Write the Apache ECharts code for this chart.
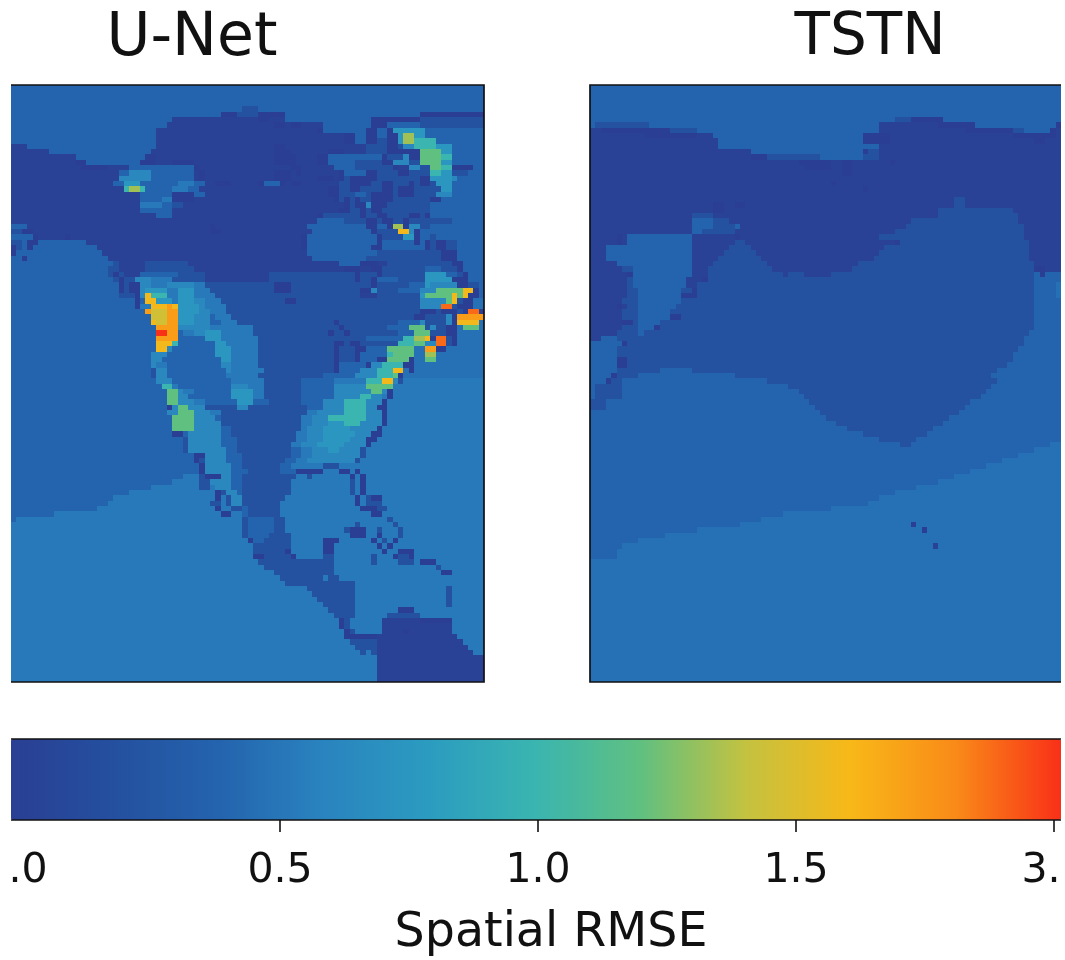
<!DOCTYPE html>
<html><head><meta charset="utf-8">
<style>html,body{margin:0;padding:0;background:#fff}#c{width:1065px;height:960px}</style>
<script src="https://cdn.jsdelivr.net/npm/echarts@6/dist/echarts.min.js"></script>
</head><body><div id="c"></div>
<script>
const panelTitles = ['U-Net', 'TSTN'];
const colorbarName = 'Spatial RMSE';
const colorbarTicks = [0, 0.5, 1.0, 1.5, 2.0];
const colorbarLabels = ['0.0', '0.5', '1.0', '1.5', '3.0'];
const colormap = ['#2a3f94','#24509f','#2464ae','#2a84bf','#2b9cc0','#3ab5b0','#60c080','#c4c240','#f8b818','#f98a18','#f93018'];
const levelValues = {a:-1,b:0.03,c:0.21,d:0.40,D:0.48,e:0.53,f:0.63,g:0.75,h:1.00,i:1.20,j:1.33,K:1.45,k:1.58,l:1.72,m:1.87,n:2.00};
const COLS = 88;
// each row: level letter + the column where that level ends
const unetRows = [
"d88","d88","d88","d88",
"d43 c46 d88",
"d39 a42 c46 a51 d76 a88",
"d30 b46 a48 b51 d67 a76 c88",
"d29 b49 a51 b52 a54 b58 d67 a70 d76 c88",
"d27 b57 a58 d66 a68 d70 a71 g77 d88",
"d27 b62 a64 d66 a68 d70 a72 g73 j75 g77 d88",
"d27 b62 a64 d66 a68 c70 a72 g73 j75 h79 d88",
"b3 d27 b49 a51 b66 c70 a72 c73 f75 h79 g82 d88",
"b7 d26 b49 a52 b59 a62 b66 c70 a76 i80 g82 d88",
"b12 d25 a27 b49 a53 b57 a59 d69 a70 c73 f74 a76 i80 h82 d88",
"b12 a14 d24 a27 b30 a34 b49 a53 b57 a59 d64 c69 a71 f74 c76 i80 g82 d88",
"b13 a18 b22 d34 a35 b52 a54 b60 d64 c71 a72 b74 f76 c78 i80 h82 a86 d88",
"b20 d22 f26 d34 b35 a36 b49 a52 b53 a54 b61 a62 d66 a68 c72 a74 c78 h80 g82 c85 d88",
"b20 f26 d34 b35 a36 b49 a52 b57 a60 b61 a62 c63 a68 c76 a78 g82 f83 d88",
"b19 d21 g24 d31 e34 d36 b38 a41 b46 a47 d50 a51 b52 a54 b61 c63 a67 c69 a71 c74 a75 c76 a78 c79 g82 d88",
"b21 h22 j24 h25 d30 e33 d35 b59 a61 c63 a65 c69 a71 c72 a75 c80 g82 d88",
"b24 d30 a34 d36 b59 a61 c64 d66 c67 a71 c72 a75 c79 f82 d88",
"b24 d28 e30 a34 b60 a61 c62 a63 c64 a65 c67 a71 c78 a80 d88",
"b24 e28 d30 c32 b62 a63 c64 a66 f67 a70 c78 d88",
"b24 d30 b61 a63 c65 a66 c67 a69 c78 d88",
"b27 d30 b57 a58 c65 a66 c68 a70 c74 a76 c77 a78 d88",
"b57 d62 c66 a68 c69 a71 c73 a74 c82 d88",
"d3 b37 a38 b55 d66 a68 d70 a71 j73 a74 f76 c78 d88",
"c2 a4 b37 a39 b56 d67 a68 c72 k74 f75 a76 d88",
"d4 a5 b10 a11 b54 a55 d68 a69 c73 g75 a76 d78 c79 d88",
"c2 d3 a5 d14 b54 a55 d68 a69 d75 a76 d77 a78 c79 a81 c83 d88",
"a1 c2 d3 a4 d16 b54 a55 d67 a69 d77 a78 c79 a81 c83 d88",
"a1 d17 b55 d68 c80 a83 d88",
"d2 a3 d18 b56 d66 c80 a83 d88",
"d19 c20 b25 c33 b61 d65 a68 b70 c82 a84 d88",
"d18 c20 b25 c34 b62 a65 b67 a69 c77 d80 c83 a84 d88",
"d18 c19 a20 c21 b24 d31 c36 b48 c64 a65 c68 a69 c77 g81 d83 c84 a85 d88",
"d19 c20 a21 c23 f26 e30 c36 b48 c64 a65 c67 a68 d72 c77 g82 a85 d88",
"d20 a21 c22 a24 f26 e29 f34 e36 c49 a52 c67 a68 c74 d77 g78 f83 a85 c87 d88",
"d20 a21 c22 a24 f25 g29 e31 g34 e37 c49 a52 c65 a67 f68 c72 d76 f79 i84 k86 a87 d88",
"d20 c23 a24 f25 k26 h29 e31 g34 e38 c65 b68 c76 g77 i82 k83 i84 k85 a87 d88",
"d23 a24 d25 k27 g30 e31 g34 f36 e39 c51 a53 c76 f81 i82 k83 c84 a86 D88",
"d23 a24 e26 k29 l30 k31 g35 f36 e40 c76 f80 m82 c83 a86 D88",
"d25 l26 K29 l31 g35 f37 e40 c76 a79 c80 a83 c84 a85 m87 a88",
"d26 K29 l31 g34 f37 d38 e41 c75 a77 c81 f82 a83 l88",
"d26 k27 K29 l31 g34 f37 d39 e42 c60 a61 c72 d76 f77 c81 f82 a83 k87 D88",
"d27 l31 f37 e45 c61 a62 c70 d74 i77 c78 f79 c81 a83 D84 i87 D88",
"d27 n29 l31 d32 e34 f36 g39 e45 c59 a60 c62 a63 c72 d75 i78 c81 a83 D88",
"d27 l31 d36 g39 e46 c66 d73 h75 j77 k78 a79 m81 c82 a83 D88",
"d27 k30 h31 d38 g40 e46 c60 a62 c63 a65 c72 h75 i77 f79 m81 c82 a83 D88",
"d27 k29 f30 d38 g41 e46 c60 a61 c64 a66 d70 i75 D77 l79 a81 D88",
"d26 f29 d38 g41 e46 c60 a61 c64 a65 d70 h71 i75 D77 j79 D88",
"d26 f28 d39 g41 e46 c60 a61 c64 a65 d68 a70 i74 a75 D77 i79 D88",
"d26 f27 e29 d39 f41 e46 c60 a61 d66 a67 f69 h73 a75 D88",
"d26 c27 f29 d40 f41 e47 c60 a61 d65 f68 h71 k73 D74 a75 D88",
"d26 c27 f29 d40 e46 c58 d64 f68 h71 i72 a73 D88",
"d27 f30 d41 e47 c54 d60 e66 h69 k71 f72 c73 e88",
"d28 h30 e31 d41 f44 e47 c54 d60 f66 i71 e88",
"d29 i31 f32 e34 d41 g45 e47 c54 d60 f67 i69 f70 a71 e88",
"d29 i31 f33 d41 g45 e47 c54 d60 f65 h67 f69 e70 a71 e88",
"d29 i31 f34 e36 d42 g45 d48 c54 d58 f62 h66 f69 a70 e88",
"d29 a30 f31 i33 f36 c42 f44 c55 d58 f62 h66 f68 a70 e88",
"d29 f31 i34 f37 e39 c55 e57 f62 h66 f69 a70 e88",
"d30 i34 f38 d39 c54 e56 f59 h66 f69 a70 e88",
"d30 i34 f39 c54 e56 f59 g62 h65 f69 a70 e88",
"d30 i34 f39 d41 c54 e55 f58 g63 f68 a69 e88",
"d30 a32 d33 f39 d41 c53 e55 f58 g64 f67 a69 e88",
"d32 c33 f39 d42 c53 e55 f58 g63 f66 a68 e88",
"d32 c33 f39 d42 c52 e54 f57 g62 f66 a67 e88",
"d32 c33 f40 d42 c52 d54 e56 f59 g61 f65 c66 e88",
"d34 a36 f40 d43 c52 d54 e56 f65 c66 e88",
"d34 a35 c36 f40 d43 c51 d53 e55 f64 c65 e88",
"d35 a36 f41 d43 c50 d52 e58 c61 e88",
"d35 a36 f41 d44 c50 d53 a58 e61 a63 e64 a65 e88",
"d32 e35 c36 a39 f41 d43 c53 e55 c56 e63 a64 e65 a66 e88",
"d30 e35 c37 f41 d43 c52 e63 c64 e65 a66 e88",
"d26 e35 c37 e38 f41 d43 c52 e63 c64 e65 a66 e88",
"d22 e38 a39 c40 f42 d43 c52 e63 c64 e65 a66 e88",
"d19 e38 a39 e40 c41 f43 c51 e64 a65 e66 c67 a69 e88",
"d18 e37 c39 e40 c41 f43 c50 e64 a65 e66 c69 e88",
"d16 e38 a39 e41 c43 d44 c50 e65 a68 c70 e88",
"d8 e39 a41 e43 d44 c50 e67 a69 e88",
"d1 e43 c44 d49 c51 e70 c71 e88",
"e43 c44 d49 c51 e64 c65 e71 c72 e88",
"e43 c44 d49 c51 e62 c63 a66 e68 c69 e72 c73 e88",
"e43 c44 d48 c52 e63 a66 e68 a69 e72 c73 e88",
"e44 a45 d47 c52 e58 a61 e67 a68 e69 c70 e71 a72 e88",
"e45 c52 e58 a60 e68 a69 e70 a71 e88",
"e45 c51 a52 e58 a60 e69 a70 e72 a75 e88",
"e45 a47 c52 a53 e58 c60 e67 c68 e71 a72 c74 a75 e88",
"e46 c60 e67 c68 e72 c75 e76 a79 e88",
"e47 c60 e79 c80 e88",
"e49 c60 e80 a82 e88",
"e50 c58 e59 c61 e88",
"e51 c64 e88",
"e55 c64 e81 c82 e88",
"e56 c64 e81 c82 e88",
"e57 c64 e81 c82 e88",
"e58 c64 e81 c82 e88",
"e59 c64 e72 a75 e88",
"e60 c64 e70 c76 e88",
"e61 a62 c63 e69 b76 a82 e88",
"e61 a62 c63 e69 b82 e88",
"e62 a63 c64 e69 b73 a74 b82 e88",
"e62 a68 b83 e88",
"e63 c68 b84 e88",
"e64 c68 b85 e88",
"e65 c66 e67 c68 b86 e88",
"e68 b88","e68 b88","e68 b88","e68 b88","e68 b88"
];
const tstnRows = [
"d88","d88","d88","d88","d88","d88",
"d57 c60 a66 d88",
"d1 c11 d54 b65 a72 d87 a88",
"b2 a15 c20 d54 b70 a79 c81 d86 a87 b88",
"b10 a20 b23 d51 a56 b79 a87 b88",
"b24 d51 a56 b83 a85 b88",
"b24 d54 b88",
"b30 d51 a52 c54 b88",
"b30 a33 c43 d51 c54 b88",
"b39 a45 b47 a49 b56 a57 b88",
"b40 a45 b47 a49 b88",
"b47 a49 b88",
"b88",
"b45 a46 b88",
"b51 a52 b88",
"b88",
"b68 c70 b88",
"b23 a25 b27 a29 b68 c70 b88",
"b23 a25 b65 c79 b88",
"b19 c23 b65 c80 b88",
"b19 d23 c26 b60 c80 b88",
"b19 d23 c27 d28 b59 c81 b88",
"b19 d21 c27 b57 c81 b88",
"b5 a6 b7 d19 b27 a28 b54 c81 b88",
"b5 a6 b7 d19 b27 c29 b57 a58 c82 b88",
"b3 d19 b26 c30 b55 c82 b88",
"b3 d19 b25 c31 b54 c82 b88",
"b3 d19 b24 c32 b53 c82 b88",
"b5 d19 b23 c33 b50 c83 b88",
"b6 c8 d19 b22 c34 b49 c83 a85 b88",
"b7 a8 d19 b22 c36 b37 c40 b45 c83 d84 a85 d88",
"b7 c8 d18 b21 a22 c83 d88",
"b7 c8 d18 b20 c83 d87 D88",
"b7 c9 d17 c19 a20 c83 d87 D88",
"b7 c9 d17 a20 c83 d87 D88",
"b6 c9 d17 c83 d88",
"b5 a6 b7 c9 d16 c83 d88",
"b6 c9 d15 c83 d88",
"b6 c9 d15 a17 c83 d88",
"b6 a8 c9 d13 c83 d88",
"b6 c9 d12 a13 c83 d88",
"b5 c9 d10 c82 d88",
"b2 d5 c81 d88",
"d6 a7 c81 d88",
"d5 c80 d88",
"d5 c79 d88",
"d5 a7 c79 d88",
"d5 a7 c78 d88",
"d5 c13 d19 c76 d88",
"d4 a5 c9 d27 c75 d88",
"d3 a4 c6 d33 c76 d88",
"d1 c6 d37 c75 d88",
"d1 c6 d39 c74 d88",
"d1 c6 d40 c73 d88",
"c3 d41 c71 d88",
"c3 d42 c70 d88",
"d43 c69 d88",
"d44 c67 d88",
"d46 c66 d88",
"d48 c64 d88",
"d51 c63 d88",
"d54 c61 d88",
"d58 c60 d86 D88",
"d83 D88","d80 D88","d77 D88","d74 D88","d71 D88","d68 D88","d65 D88","d61 D88","d57 D88","d54 D88","d52 D88","d45 D88","d36 D88","d32 D88",
"d28 D60 a61 D88",
"d20 D62 a63 D88",
"d14 D88","d9 D88",
"d6 D64 b65 D88",
"d5 D88","d5 D88",
"D88","D88","D88","D88","D88","D88","D88","D88","D88","D88","D88","D88","D88","D88","D88","D88","D88","D88","D88","D88","D88","D88","D88"
];

function cells(rows){
  const out=[];
  rows.forEach((row,r)=>{
    let col=0;
    row.split(' ').forEach(tok=>{
      const end=+tok.slice(1), v=levelValues[tok[0]];
      for(;col<end&&col<COLS;col++) out.push([col,r,v]);
    });
  });
  return out;
}
const xCats=Array.from({length:COLS},(_,i)=>i);
const yCats=n=>Array.from({length:n},(_,i)=>i);
const hidden={show:false};
const line=(pts)=>({type:'polyline',z:100,shape:{points:pts},style:{stroke:'#111',lineWidth:1.7,fill:null}});
const cover=(x,w)=>({type:'rect',z:101,shape:{x:x,y:700,width:w,height:260},style:{fill:'#fff'}});
// cell drawn through the axes' own scale, snapped to whole pixels so neighbours leave no seams
function cellItem(params,api){
  const c=api.coord([api.value(0),api.value(1)]), s=api.size([1,1]);
  const x0=Math.round(c[0]-s[0]/2), x1=Math.round(c[0]+s[0]/2);
  const y0=Math.round(c[1]-s[1]/2), y1=Math.round(c[1]+s[1]/2);
  return {type:'rect',shape:{x:x0,y:y0,width:x1-x0,height:y1-y0},style:{fill:api.visual('color')}};
}
const titleStyle=s=>({fontFamily:'DejaVu Sans',fontSize:s,fontWeight:'normal',color:'#111'});

const chart=echarts.init(document.getElementById('c'),null,{renderer:'canvas'});
chart.setOption({
  animation:false,
  backgroundColor:'#fff',
  textStyle:{fontFamily:'DejaVu Sans'},
  title:[
    {text:panelTitles[0],left:192,top:9,padding:0,textAlign:'center',textStyle:titleStyle(60)},
    {text:panelTitles[1],left:870,top:10,padding:0,textAlign:'center',textStyle:titleStyle(58)},
    {text:colorbarName,left:551,top:910,padding:0,textAlign:'center',textStyle:titleStyle(47.5)}
  ],
  grid:[
    {left:11,top:85,width:473,height:597,outerBoundsMode:'none'},
    {left:590,top:85,width:471,height:597,outerBoundsMode:'none'},
    {left:22,top:739,width:1039,height:81,outerBoundsMode:'none'}
  ],
  xAxis:[
    {gridIndex:0,type:'category',data:xCats,axisLine:hidden,axisTick:hidden,axisLabel:hidden,splitLine:hidden},
    {gridIndex:1,type:'category',data:xCats,axisLine:hidden,axisTick:hidden,axisLabel:hidden,splitLine:hidden},
    {gridIndex:2,type:'value',min:0,max:2.0136,axisLine:hidden,splitLine:hidden,
      axisTick:{show:true,length:12,customValues:colorbarTicks.slice(1),lineStyle:{color:'#111',width:1.6}},
      axisLabel:{show:true,customValues:colorbarTicks,margin:31,fontSize:41,color:'#111',fontFamily:'DejaVu Sans',
        formatter:v=>{const s=colorbarLabels[colorbarTicks.indexOf(v)];return v===0?'{z|'+s+'}':s;},
        rich:{z:{fontSize:41,color:'#111',fontFamily:'DejaVu Sans',padding:[0,14,0,0]}}}}
  ],
  yAxis:[
    {gridIndex:0,type:'category',inverse:true,data:yCats(unetRows.length),axisLine:hidden,axisTick:hidden,axisLabel:hidden,splitLine:hidden},
    {gridIndex:1,type:'category',inverse:true,data:yCats(tstnRows.length),axisLine:hidden,axisTick:hidden,axisLabel:hidden,splitLine:hidden},
    {gridIndex:2,type:'value',min:0,max:1,axisLine:hidden,axisTick:hidden,axisLabel:hidden,splitLine:hidden}
  ],
  visualMap:{type:'continuous',min:0,max:2,dimension:2,seriesIndex:[0,1],orient:'horizontal',left:11,top:739,itemWidth:81,itemHeight:1050,
    padding:0,text:null,showLabel:false,calculable:false,hoverLink:false,
    inRange:{color:colormap},outOfRange:{color:'#2e1c85'}},
  series:[
    {type:'custom',xAxisIndex:0,yAxisIndex:0,encode:{x:0,y:1},data:cells(unetRows),renderItem:cellItem,silent:true,progressive:0},
    {type:'custom',xAxisIndex:1,yAxisIndex:1,encode:{x:0,y:1},data:cells(tstnRows),renderItem:cellItem,silent:true,progressive:0}
  ],
  graphic:{elements:[
    line([[11,85],[484,85],[484,682],[11,682]]),
    line([[1061,85],[590,85],[590,682],[1061,682]]),
    line([[11,739],[1061,739]]),
    line([[11,820],[1061,820]]),
    cover(0,11),cover(1061,4)
  ]}
});
</script></body></html>
